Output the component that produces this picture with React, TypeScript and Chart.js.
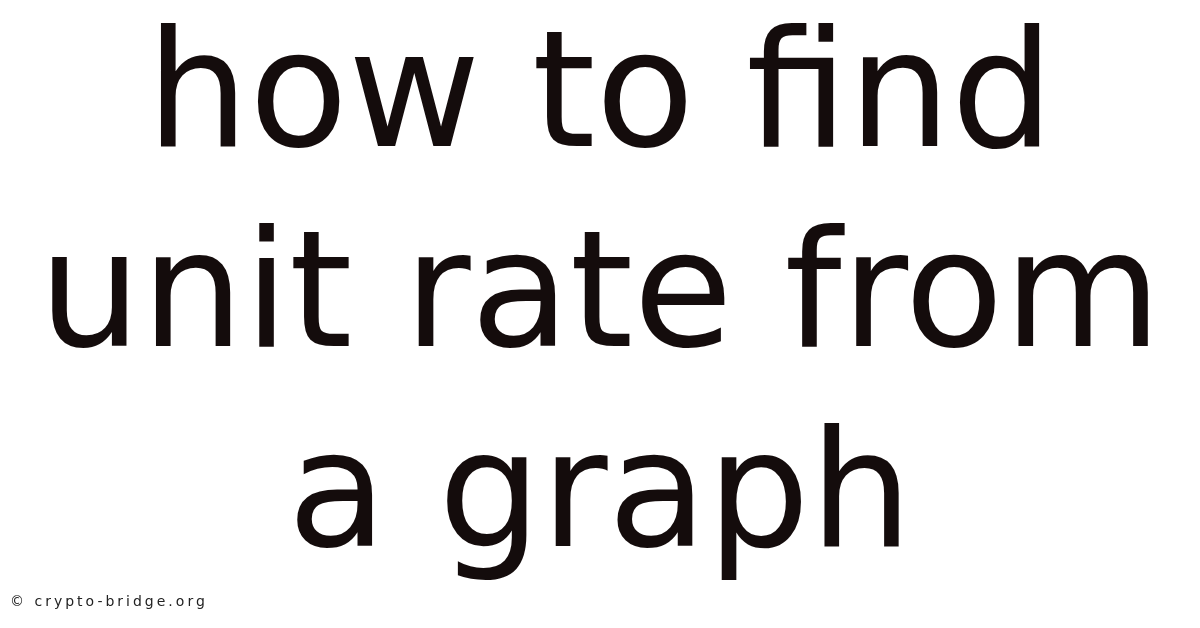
import { useEffect, useRef } from "react"
import { Chart, registerables } from "chart.js"

Chart.register(...registerables)

// headline text, one entry per line
const headlineLines = ["how to find", "unit rate from", "a graph"]
const creditText = "© crypto-bridge.org"

// no real series in this picture, the chart only carries the text
const categories: string[] = []
const values: number[] = []

const creditPlugin = {
  id: "credit",
  afterDraw(chart: Chart) {
    const ctx = chart.ctx
    ctx.save()
    ctx.fillStyle = "#222222"
    ctx.font = "14px 'DejaVu Sans'"
    ;(ctx as any).letterSpacing = "3px"
    ctx.textBaseline = "middle"
    ctx.textAlign = "left"
    ctx.fillText(creditText, 10, 602)
    ctx.restore()
  },
}

export default function App() {
  const canvasRef = useRef<HTMLCanvasElement>(null)

  useEffect(() => {
    if (!canvasRef.current) return
    const chart = new Chart(canvasRef.current, {
      type: "bar",
      data: {
        labels: categories,
        datasets: [{ data: values }],
      },
      options: {
        responsive: true,
        maintainAspectRatio: false,
        animation: false,
        layout: { padding: 0 },
        scales: {
          x: { display: false },
          y: { display: false },
        },
        plugins: {
          legend: { display: false },
          tooltip: { enabled: false },
          title: {
            display: true,
            text: headlineLines,
            color: "#140c0c",
            align: "center",
            font: { family: "'DejaVu Sans'", size: 162, weight: "normal", lineHeight: "200px" },
            padding: { top: 4, bottom: 0 },
          },
        },
      },
      plugins: [creditPlugin],
    })
    return () => chart.destroy()
  }, [])

  return (
    <div style={{ position: "fixed", left: 0, top: 0, width: 1200, height: 628, background: "#fff" }}>
      <canvas ref={canvasRef}></canvas>
    </div>
  )
}
